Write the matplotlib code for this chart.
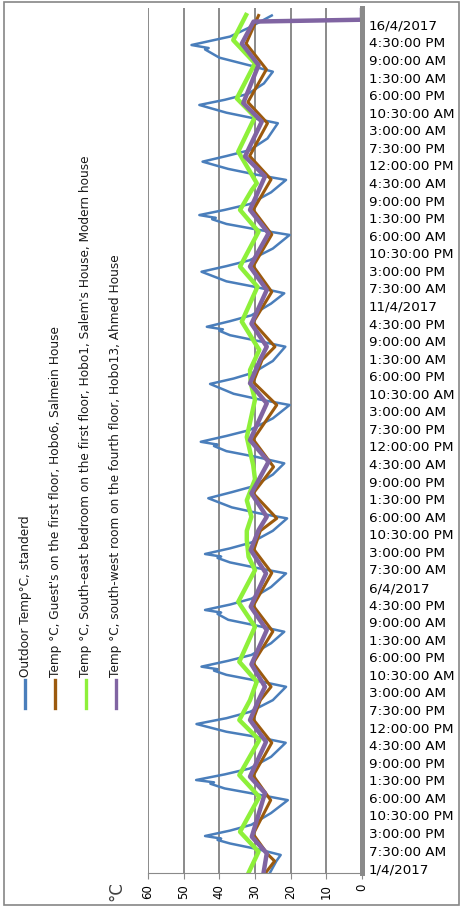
import matplotlib
matplotlib.use("Agg")
import matplotlib.pyplot as plt
from matplotlib.lines import Line2D
from matplotlib.patches import Rectangle

# hours since 1/4/2017 00:00, temperatures in degC
outdoor_hours = [-2, 3, 5.6, 8, 10.5, 12.0, 12.6, 13.7, 16, 18.5, 23.5,
                 29, 31.5, 34, 36.0, 36.6, 37.6, 40, 42.5, 47.5,
                 53.5, 56, 58.2, 61.5, 64, 66.7, 71.7,
                 77.4, 80, 82.5, 84.3, 84.9, 86, 88.5, 91, 96,
                 100.9, 103.5, 106, 108.5, 109.1, 110.2, 112.5, 115, 120,
                 125.8, 128, 130.5, 132.4, 133.0, 134.1, 136.5, 139, 144,
                 149.3, 151.5, 154, 157.9, 160.5, 163, 168,
                 172.8, 175.5, 178, 180.2, 180.8, 182, 184.5, 187, 192,
                 197.7, 200, 202.5, 206.7, 209, 211.5, 216.5,
                 222.6, 225, 227.5, 229.4, 230.0, 231.1, 233.5, 236, 241,
                 245.4, 248, 250.5, 254.6, 257, 259.5, 264.5,
                 270.3, 272.5, 275, 277.0, 277.6, 278.8, 281, 283.5, 288.5,
                 293.8, 296, 298.5, 301.6, 304, 306.5, 311.5,
                 318, 320, 322.5, 325.8, 328, 330.5, 335,
                 340, 342.5, 346, 349.5, 350.1, 351.4, 355, 359, 364]
outdoor_temp = [25.8, 24.0, 22.8, 29, 37, 40.5, 39.5, 44, 37, 31, 25.5,
                20.8, 29.5, 38.5, 42.5, 41.5, 46.5, 38.5, 31.5, 25.5,
                21.4, 29.5, 38, 46.4, 38, 31.4, 25,
                21.3, 29.5, 38, 41.5, 40.5, 45, 37.5, 31, 25.5,
                21.8, 29.5, 37.5, 40.5, 39.5, 44, 37, 31, 25.5,
                21.3, 29, 37, 40.5, 39.5, 44, 37, 31, 25,
                21.0, 29, 36.5, 43.1, 36.5, 30.5, 25,
                21.8, 29.5, 38, 41.5, 40.5, 45.2, 38, 31.5, 25,
                20.3, 28.5, 36, 42.6, 36, 30.5, 25,
                21.5, 29, 37, 40.0, 39.0, 43.5, 37, 31, 25.5,
                21.8, 29.5, 38, 45, 38, 31.5, 25,
                20.3, 29, 38, 42.0, 41.0, 45.6, 38.5, 31.5, 25.5,
                21.3, 29.5, 37.5, 44.7, 38, 31.5, 26.5,
                23.6, 30, 38, 45.6, 38.5, 32, 27.5,
                25.0, 31, 40, 44.0, 43.0, 47.8, 37, 31.4, 25.3]

salmein_hours = [-2, 3, 6, 14.5, 29, 39.5, 53.5, 63.5, 71.7,
                 77.4, 87.5, 101, 112, 126, 136, 144,
                 149.3, 160, 171.3, 183, 197.7, 207.5, 217,
                 222.6, 233, 246, 257, 270.5, 281,
                 294, 304, 318, 327, 341, 352, 364]
salmein_temp = [27.0, 24.5, 26.5, 30.5, 25.6, 30.5, 25.3, 30.5, 28.5,
                25.5, 30.5, 25.0, 30.5, 25.3, 30.3, 28.5,
                23.9, 30.5, 24.8, 30.5, 23.9, 30.5, 28.0,
                24.4, 30.5, 25.3, 30.5, 25.3, 30.5,
                25.5, 31.5, 26.5, 32.0, 26.8, 32.5, 29.0]

salem_hours = [-2, 7, 15.5, 30.4, 39.7, 54.7, 63.2, 71.7,
               79.6, 88.1, 103, 113.7, 127.2, 132.9, 140,
               144, 150, 157, 166, 172, 184, 193, 200, 207,
               212.6, 221.2, 233.3, 248.2, 256.8, 271.7, 281, 289.5,
               292.4, 305.9, 320.7, 328.6, 343.6, 353.5, 364.2]
salem_temp = [31.8, 29.0, 34.2, 28.8, 34.4, 28.8, 34.4, 31.4,
              29.5, 34.4, 30.0, 34.7, 30.0, 31.8, 32.3,
              32.3, 31.0, 32.3, 30.0, 30.5, 32.3, 31.0, 30.0, 31.2,
              31.4, 28.8, 33.7, 29.3, 34.2, 29.0, 34.2, 30.9,
              29.5, 34.7, 30.0, 35.1, 30.0, 36.1, 32.5]

ahmed_hours = [-2, 6.3, 13.4, 32, 39, 53.9, 63.2, 71.7,
               77.4, 87, 101.6, 111.6, 125.8, 135.8, 144.3,
               150, 160, 173.5, 182.7, 198.4, 207, 216.9,
               222.6, 232.4, 246.8, 256.8, 271, 281,
               295.3, 303.8, 318.7, 326.6, 342.8, 352, 361.4, 362.2, 367.5]
ahmed_temp = [27.6, 26.7, 30.9, 27.2, 31.4, 26.9, 31.4, 29.0,
              27.2, 31.0, 26.7, 31.2, 26.9, 31.2, 29.0,
              26.7, 31.0, 26.2, 31.4, 26.7, 31.4, 28.6,
              26.7, 31.0, 26.7, 31.4, 26.2, 31.4,
              27.2, 32.8, 28.1, 33.3, 29.0, 33.7, 30.4, 0.0, 0.0]

series_labels = [
    "Outdoor Temp°C, standerd",
    "Temp °C, Guest's on the first floor, Hobo6, Salmein House",
    "Temp °C, South-east bedroom on the first floor, Hobo1, Salem's House, Modern house",
    "Temp °C, south-west room on the fourth floor, Hobo13, Ahmed House",
]
series_colors = ["#4a7ebb", "#9c5a0e", "#8ef03a", "#8064a2"]
series_widths = [1.8, 2.2, 3.2, 3.2]

temp_ticks = [0, 10, 20, 30, 40, 50, 60]
time_ticks = [7.5 * k for k in range(49)]
time_labels = [
    "1/4/2017", "7:30:00 AM", "3:00:00 PM", "10:30:00 PM", "6:00:00 AM",
    "1:30:00 PM", "9:00:00 PM", "4:30:00 AM", "12:00:00 PM", "7:30:00 PM",
    "3:00:00 AM", "10:30:00 AM", "6:00:00 PM", "1:30:00 AM", "9:00:00 AM",
    "4:30:00 PM",
    "6/4/2017", "7:30:00 AM", "3:00:00 PM", "10:30:00 PM", "6:00:00 AM",
    "1:30:00 PM", "9:00:00 PM", "4:30:00 AM", "12:00:00 PM", "7:30:00 PM",
    "3:00:00 AM", "10:30:00 AM", "6:00:00 PM", "1:30:00 AM", "9:00:00 AM",
    "4:30:00 PM",
    "11/4/2017", "7:30:00 AM", "3:00:00 PM", "10:30:00 PM", "6:00:00 AM",
    "1:30:00 PM", "9:00:00 PM", "4:30:00 AM", "12:00:00 PM", "7:30:00 PM",
    "3:00:00 AM", "10:30:00 AM", "6:00:00 PM", "1:30:00 AM", "9:00:00 AM",
    "4:30:00 PM",
    "16/4/2017",
]

W, H = 462, 909
fig = plt.figure(figsize=(W / 100, H / 100), dpi=100)

# plot area: 60 degC at x=148 px, 0 degC at x=362 px, time from bottom (873) to top (8)
ax = fig.add_axes([148 / W, 1 - 873 / H, (362 - 148) / W, (873 - 8) / H])
ax.set_xlim(60, 0)
ax.set_ylim(-2.1, 367.2)

all_series = [
    (outdoor_hours, outdoor_temp),
    (salmein_hours, salmein_temp),
    (salem_hours, salem_temp),
    (ahmed_hours, ahmed_temp),
]
for (hrs, temps), col, lw in zip(all_series, series_colors, series_widths):
    ax.plot(temps, hrs, color=col, lw=lw, solid_joinstyle="round")

ax.set_xticks(temp_ticks)
ax.set_xticklabels([str(v) for v in temp_ticks], rotation=90, fontsize=8.5)
ax.grid(axis="x", color="#8a8a8a", lw=1.4)
ax.set_axisbelow(True)
ax.tick_params(axis="x", direction="out", length=4, color="#8a8a8a", pad=4)

ax.yaxis.tick_right()
ax.set_yticks(time_ticks)
ax.set_yticklabels(time_labels, fontsize=9.7)
ax.tick_params(axis="y", length=0, pad=5)

for side in ["left", "top"]:
    ax.spines[side].set_visible(False)
ax.spines["bottom"].set_color("#8a8a8a")
ax.spines["bottom"].set_linewidth(0.8)
ax.spines["right"].set_color("#8a8a8a")
ax.spines["right"].set_linewidth(3.6)

fig.text(116 / W, 1 - 891 / H, "°C", rotation=90, fontsize=12,
         color="#404040", ha="center", va="center")

# legend drawn sideways, like the rotated original
legend_x = [25, 55, 86, 116]
for lx, lab, col in zip(legend_x, series_labels, series_colors):
    fig.add_artist(Line2D([lx / W, lx / W], [1 - 708 / H, 1 - 680 / H],
                          color=col, lw=2.4, transform=fig.transFigure))
    fig.text(lx / W, 1 - 677 / H, lab, rotation=90, rotation_mode="anchor",
             ha="left", va="center", fontsize=8.7, color="#1a1a1a")

fig.add_artist(Rectangle((4 / W, 1 - 905 / H), 455 / W, 903 / H, fill=False,
                         edgecolor="#868686", lw=1.2, transform=fig.transFigure))

fig.savefig("out.png", dpi=100)
